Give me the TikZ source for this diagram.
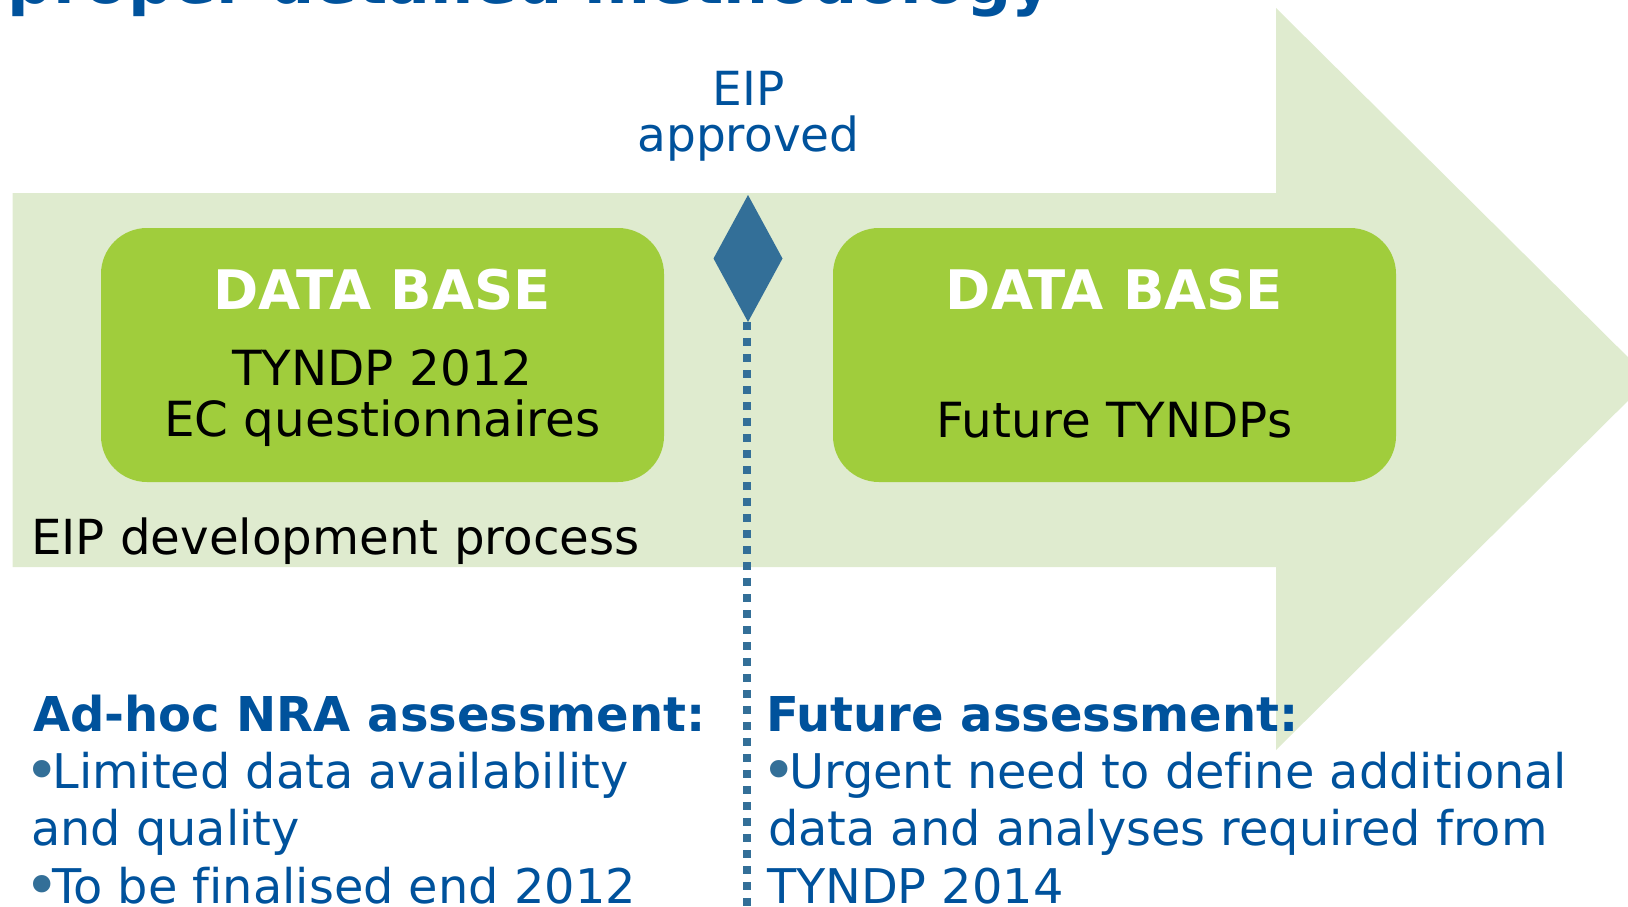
\documentclass[tikz,border=0pt]{standalone}
\usepackage{fontspec}
\setmainfont{DejaVu Sans}[Ligatures=NoCommon]
\usetikzlibrary{shapes.geometric}
\definecolor{lightgreen}{HTML}{DFEBCF}
\definecolor{boxgreen}{HTML}{A0CD3C}
\definecolor{textblue}{HTML}{00529C}
\definecolor{markblue}{HTML}{336F98}
\newcommand{\bulletmark}{\raisebox{-3pt}{\color{markblue}\fontsize{60}{60}\selectfont•}\kern-7pt}
\begin{document}
\begin{tikzpicture}[x=1pt,y=-1pt,
  txt/.style={inner sep=0pt, outer sep=0pt},
  dbbox/.style={fill=boxgreen, rounded corners=46pt, minimum width=563pt, minimum height=254pt, inner sep=0pt},
  dbhead/.style={txt, anchor=base, text=white, font=\fontsize{54.5}{60}\selectfont\bfseries},
  dbtext/.style={txt, anchor=base, text=black, font=\fontsize{48.4}{57}\selectfont},
  heading/.style={txt, anchor=base west, text=textblue, font=\fontsize{48}{57}\selectfont\bfseries},
  bodytext/.style={txt, anchor=base west, text=textblue, font=\fontsize{47.8}{57}\selectfont},
  milestone/.style={shape=diamond, fill=markblue, minimum width=69pt, minimum height=127pt, inner sep=0pt, outer sep=0pt},
  dotline/.style={markblue, line width=8pt, dash pattern=on 8pt off 8pt}
]
\useasboundingbox (0,0) rectangle (1628,907);
\clip (0,0) rectangle (1628,907);

% title (cut off at top)
\node[txt, anchor=base west, text=textblue, font=\fontsize{63.3}{70}\selectfont\bfseries] (title) at (8,4) {proper detailed methodology};

% big arrow
\fill[lightgreen] (12.5,193) -- (1276,193) -- (1276,8) -- (1650,379) -- (1276,750) -- (1276,567) -- (12.5,567) -- cycle;

% data base boxes
\node[dbbox] (boxL) at (382.5,355) {};
\node[dbbox] (boxR) at (1114.5,355) {};
\node[dbhead] (headL) at (382.5,309) {DATA BASE};
\node[dbhead] (headR) at (1114.5,309) {DATA BASE};
\node[dbtext] (tyndp) at (382.5,385.7) {TYNDP 2012};
\node[dbtext] (ecq) at (382.5,436.7) {EC questionnaires};
\node[dbtext] (future) at (1114.5,437) {Future TYNDPs};

\node[txt, anchor=base west, text=black, font=\fontsize{48.3}{57}\selectfont] (proc) at (31,554) {EIP development process};

% milestone
\node[txt, anchor=base, text=textblue, font=\fontsize{47}{52}\selectfont] (eip) at (748.5,105) {EIP};
\node[txt, anchor=base, text=textblue, font=\fontsize{47}{52}\selectfont] (appr) at (748.5,151.7) {approved};
\node[milestone] (dia) at (748,258.5) {};
\coordinate (lineend) at (746.7,915);
\draw[dotline] (dia.south -| lineend) -- (lineend);

% bottom left
\node[heading] (adhoc) at (33,731.7) {Ad-hoc NRA assessment:};
\node[bodytext] (l1) at (24,788) {\bulletmark Limited data availability};
\node[bodytext] (l2) at (31,845.5) {and quality};
\node[bodytext] (l3) at (24,903) {\bulletmark To be finalised end 2012};

% bottom right
\node[heading] (futass) at (766,731.7) {Future assessment:};
\node[bodytext] (r1) at (761,788) {\bulletmark Urgent need to define additional};
\node[bodytext] (r2) at (768,845.5) {data and analyses required from};
\node[bodytext] (r3) at (767,903) {TYNDP 2014};
\end{tikzpicture}
\end{document}
